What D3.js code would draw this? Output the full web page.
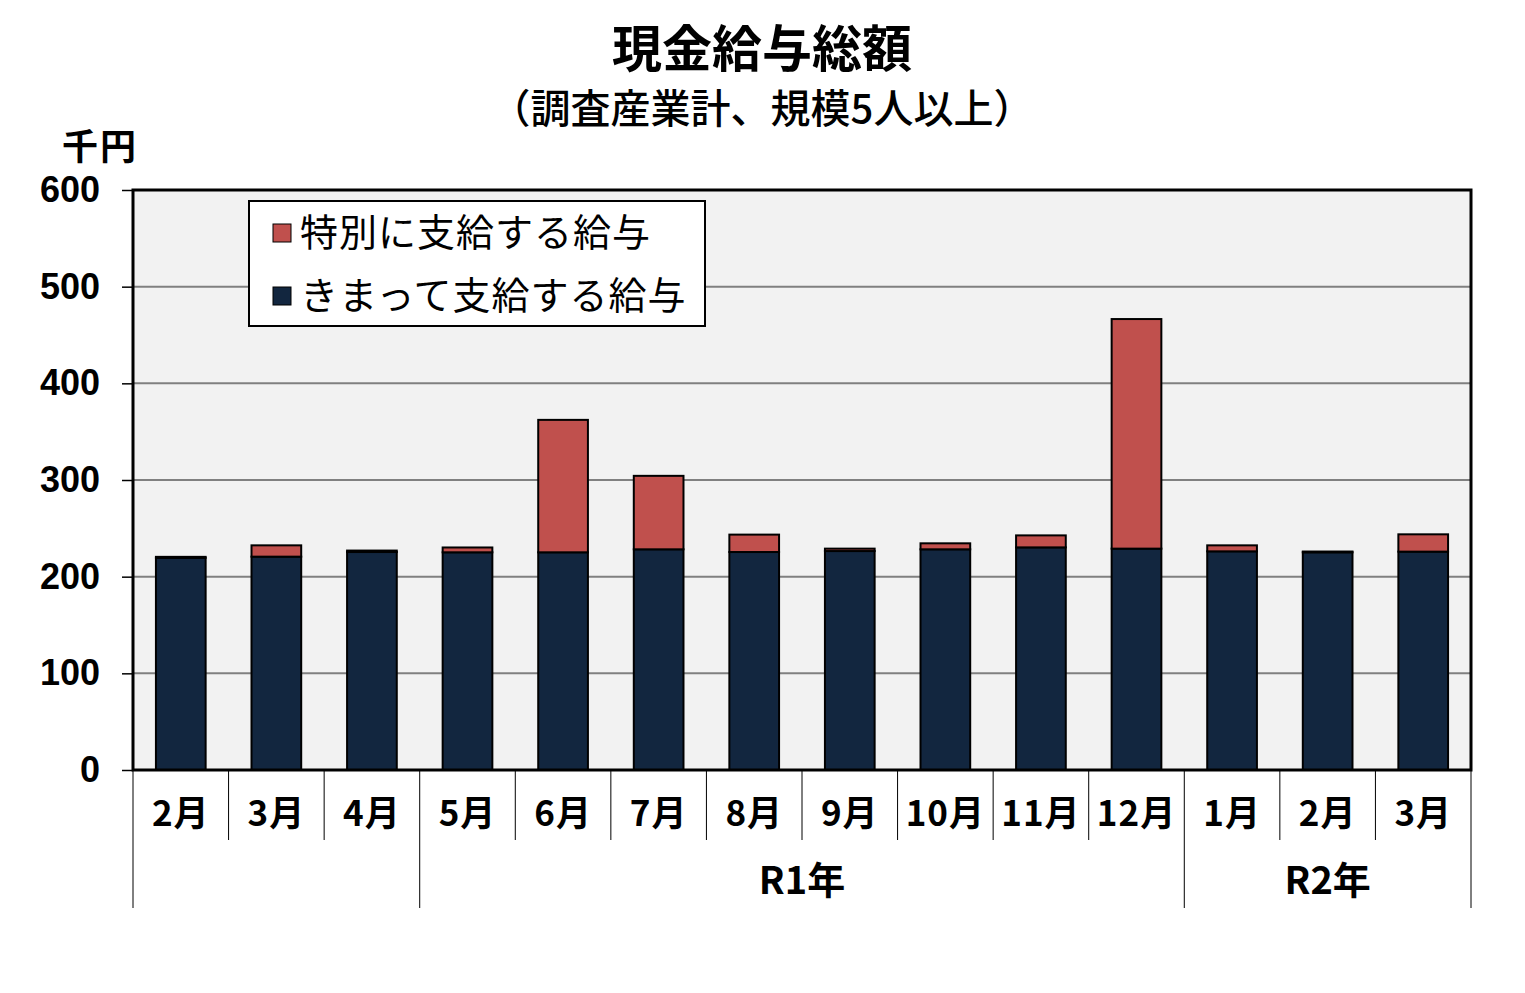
<!DOCTYPE html>
<html lang="ja">
<head>
<meta charset="UTF-8">
<title>現金給与総額</title>
<script src="https://d3js.org/d3.v7.min.js"></script>
<style>
  body { margin: 0; background: #fff; font-family: "Noto Sans CJK JP", "Noto Sans", sans-serif; }
  svg { display: block; }
</style>
</head>
<body>
<svg width="1525" height="993"></svg>
<script>
// data (千円)
const months = ["2月", "3月", "4月", "5月", "6月", "7月", "8月", "9月", "10月", "11月", "12月", "1月", "2月", "3月"];
const regular = [219.5, 220.7, 225.5, 225.2, 225.2, 228.3, 225.5, 226.5, 228.3, 230.3, 229.0, 226.2, 225.2, 225.9];
const special = [1.0, 11.7, 1.5, 5.0, 137.0, 76.0, 18.0, 2.5, 6.2, 12.4, 237.5, 6.2, 0.8, 17.9];
const years = [
  { label: "", from: 0, to: 3 },
  { label: "R1年", from: 3, to: 11 },
  { label: "R2年", from: 11, to: 14 }
];
const yTicks = [0, 100, 200, 300, 400, 500, 600];
const seriesNames = ["特別に支給する給与", "きまって支給する給与"];
const colors = { regular: "#12263f", special: "#c0504d" };

const svg = d3.select("svg");
const plotL = 133, plotR = 1471, plotT = 190, plotB = 770;

const x = d3.scaleBand().domain(d3.range(months.length)).range([plotL, plotR]).paddingInner(0.48).paddingOuter(0.24);
const step = x.step();
const y = d3.scaleLinear().domain([0, 600]).range([plotB, plotT]);

// title
svg.append("text").attr("x", 762).attr("y", 67).attr("text-anchor", "middle")
  .attr("font-size", 50).attr("font-weight", "bold").text("現金給与総額");
svg.append("text").attr("x", 762).attr("y", 123).attr("text-anchor", "middle")
  .attr("font-size", 40).attr("font-weight", 500).text("（調査産業計、規模5人以上）");
svg.append("text").attr("x", 100).attr("y", 160).attr("text-anchor", "middle")
  .attr("font-size", 36).attr("font-weight", "bold").attr("letter-spacing", 2).text("千円");

// plot background
svg.append("rect").attr("x", plotL).attr("y", plotT).attr("width", plotR - plotL).attr("height", plotB - plotT)
  .attr("fill", "#f2f2f2");

// gridlines
svg.append("g").selectAll("line").data(yTicks.filter(d => d > 0 && d < 600)).join("line")
  .attr("x1", plotL).attr("x2", plotR).attr("y1", d => y(d)).attr("y2", d => y(d))
  .attr("stroke", "#808080").attr("stroke-width", 2);

// bars
const bars = svg.append("g");
months.forEach((m, i) => {
  bars.append("rect").attr("x", x(i)).attr("width", x.bandwidth())
    .attr("y", y(regular[i])).attr("height", y(0) - y(regular[i]))
    .attr("fill", colors.regular).attr("stroke", "#000").attr("stroke-width", 2);
  bars.append("rect").attr("x", x(i)).attr("width", x.bandwidth())
    .attr("y", y(regular[i] + special[i])).attr("height", y(regular[i]) - y(regular[i] + special[i]))
    .attr("fill", colors.special).attr("stroke", "#000").attr("stroke-width", 2);
});

// plot border
svg.append("rect").attr("x", plotL).attr("y", plotT).attr("width", plotR - plotL).attr("height", plotB - plotT)
  .attr("fill", "none").attr("stroke", "#000").attr("stroke-width", 3);

// y axis
const yAxis = svg.append("g").attr("transform", `translate(${plotL},0)`)
  .call(d3.axisLeft(y).tickValues(yTicks).tickSize(11).tickPadding(22));
yAxis.select(".domain").remove();
yAxis.selectAll("line").attr("stroke", "#000").attr("stroke-width", 1.5);
yAxis.selectAll("text").attr("font-size", 36).attr("font-weight", "bold")
  .attr("font-family", "'Liberation Sans', Arial, sans-serif").attr("fill", "#000");

// x axis: month labels and separators
const xg = svg.append("g");
const bounds = d3.range(months.length + 1);
const yearBounds = new Set(years.flatMap(g => [g.from, g.to]));
xg.selectAll("line").data(bounds).join("line")
  .attr("x1", i => plotL + i * step).attr("x2", i => plotL + i * step)
  .attr("y1", plotB).attr("y2", i => yearBounds.has(i) ? 908 : 840)
  .attr("stroke", "#000").attr("stroke-width", 1);
xg.selectAll("text.m").data(months).join("text").attr("class", "m")
  .attr("x", (d, i) => x(i) + x.bandwidth() / 2).attr("y", 826)
  .attr("text-anchor", "middle").attr("font-size", 35).attr("font-weight", "bold")
  .attr("letter-spacing", 1).text(d => d);
xg.selectAll("text.yr").data(years).join("text").attr("class", "yr")
  .attr("x", d => plotL + (d.from + d.to) / 2 * step).attr("y", 894)
  .attr("text-anchor", "middle").attr("font-size", 38).attr("font-weight", "bold")
  .text(d => d.label);

// legend
const lg = svg.append("g");
lg.append("rect").attr("x", 249).attr("y", 201).attr("width", 456).attr("height", 125)
  .attr("fill", "#fff").attr("stroke", "#000").attr("stroke-width", 2);
const legendColors = [colors.special, colors.regular];
seriesNames.forEach((name, i) => {
  const cy = 233 + i * 63;
  lg.append("rect").attr("x", 273).attr("y", cy - 9).attr("width", 18).attr("height", 18)
    .attr("fill", legendColors[i]).attr("stroke", "#000").attr("stroke-width", 1);
  lg.append("text").attr("x", 300).attr("y", cy + 13).attr("font-size", 38)
    .attr("letter-spacing", 1).text(name);
});
</script>
</body>
</html>
